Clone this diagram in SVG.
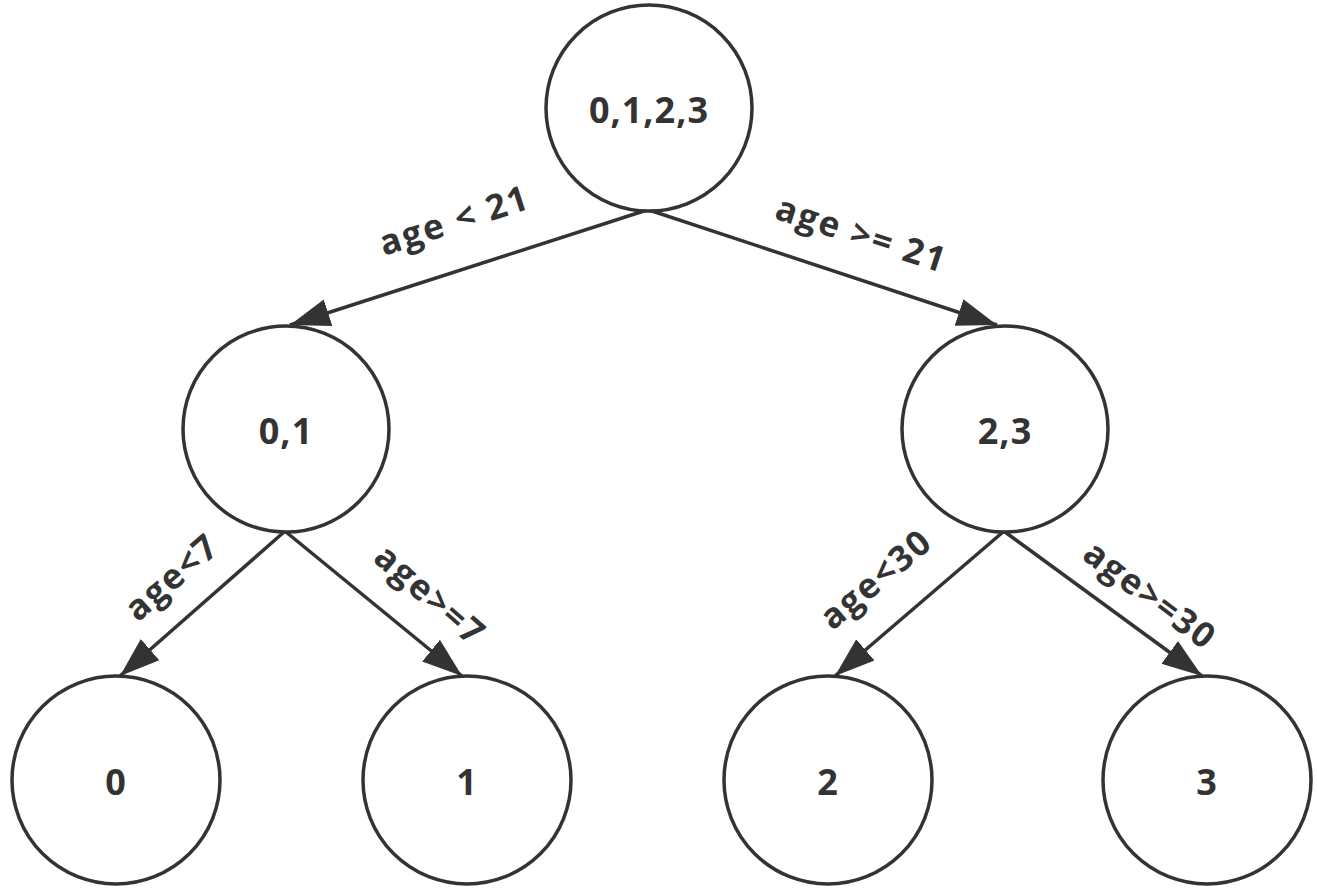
<svg xmlns="http://www.w3.org/2000/svg" width="1317" height="894" viewBox="0 0 1317 894">
<style>
.node circle{fill:#fff;stroke:#333;stroke-width:3.5}
.node text{font-family:"Open Sans","Liberation Sans",sans-serif;font-weight:bold;font-size:36px;letter-spacing:1px;fill:#333;text-anchor:middle;dominant-baseline:central}
.edge{fill:none;stroke:#333;stroke-width:3.5}
.lbl{font-family:"Open Sans","Liberation Sans",sans-serif;font-weight:bold;font-size:35px;letter-spacing:2px;fill:#333;text-anchor:middle;dominant-baseline:central}
</style>
<defs>
<marker id="arr" markerUnits="userSpaceOnUse" markerWidth="42" markerHeight="34" viewBox="0 0 42 34" refX="40" refY="17" orient="auto">
<path d="M0,3 L40,17 L0,31 Z" fill="#333"/>
</marker>
</defs>
<rect width="1317" height="894" fill="#fff"/>
<g id="connectors">
<line class="edge" x1="647" y1="210" x2="290" y2="325" marker-end="url(#arr)"/>
<line class="edge" x1="649" y1="210" x2="997" y2="325" marker-end="url(#arr)"/>
<line class="edge" x1="284" y1="532" x2="120" y2="676" marker-end="url(#arr)"/>
<line class="edge" x1="286" y1="532" x2="462" y2="676" marker-end="url(#arr)"/>
<line class="edge" x1="1003" y1="532" x2="835" y2="676" marker-end="url(#arr)"/>
<line class="edge" x1="1005" y1="532" x2="1202" y2="676" marker-end="url(#arr)"/>
<text class="lbl" transform="translate(454,219) rotate(-18)">age &lt; 21</text>
<text class="lbl" transform="translate(862,233) rotate(18)">age &gt;= 21</text>
<text class="lbl" transform="translate(171,576) rotate(-41)">age&lt;7</text>
<text class="lbl" transform="translate(431,594) rotate(41)">age&gt;=7</text>
<text class="lbl" transform="translate(875,578) rotate(-40)">age&lt;30</text>
<text class="lbl" transform="translate(1151,594) rotate(37)">age&gt;=30</text>
</g>
<g id="n0123" class="node"><circle cx="649" cy="108" r="103"/><text x="649" y="109">0,1,2,3</text></g>
<g id="n01" class="node"><circle cx="286" cy="429" r="103"/><text x="286" y="430">0,1</text></g>
<g id="n23" class="node"><circle cx="1005" cy="429" r="103"/><text x="1005" y="430">2,3</text></g>
<g id="n0" class="node"><circle cx="116" cy="780" r="104"/><text x="116" y="781">0</text></g>
<g id="n1" class="node"><circle cx="467" cy="780" r="104"/><text x="467" y="781">1</text></g>
<g id="n2" class="node"><circle cx="828" cy="780" r="104"/><text x="828" y="781">2</text></g>
<g id="n3" class="node"><circle cx="1207" cy="780" r="104"/><text x="1207" y="781">3</text></g>
</svg>
